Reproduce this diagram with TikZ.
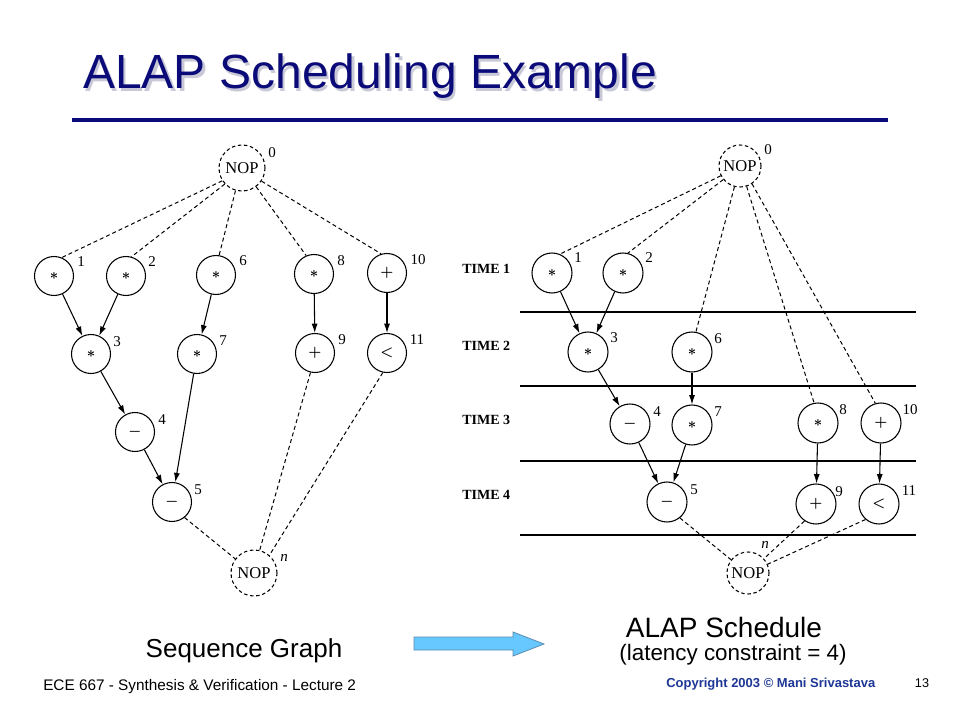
\documentclass[tikz,border=0pt]{standalone}
\usepackage{fontspec}
\setmainfont{Liberation Serif}
\newfontfamily\arialf{Liberation Sans}
\usetikzlibrary{arrows.meta}
\definecolor{navy}{RGB}{10,10,120}
\definecolor{shadowc}{RGB}{200,200,215}
\definecolor{copyc}{RGB}{30,55,150}
\definecolor{arrfill}{RGB}{102,200,255}
\definecolor{arrdraw}{RGB}{90,140,175}
\tikzset{
  opl/.style={circle,draw,line width=0.8pt,minimum size=29.25pt,inner sep=0pt,font=\fontsize{11}{11}\selectfont\boldmath},
  opr/.style={circle,draw,line width=0.8pt,minimum size=30pt,inner sep=0pt,font=\fontsize{11}{11}\selectfont\boldmath},
  nopl/.style={circle,draw,dashed,dash pattern=on 2.6pt off 2pt,line width=0.8pt,minimum size=34.5pt,inner sep=0pt,font=\fontsize{12.4}{12.4}\selectfont},
  nopr/.style={circle,draw,dashed,dash pattern=on 2.6pt off 2pt,line width=0.8pt,minimum size=31.5pt,inner sep=0pt,font=\fontsize{12.4}{12.4}\selectfont},
  lbl/.style={inner sep=0pt,font=\fontsize{11.25}{12}\selectfont},
  timelbl/.style={inner sep=0pt,anchor=west,font=\bfseries\fontsize{10.5}{12}\selectfont},
  dline/.style={dash pattern=on 3pt off 2.2pt,line width=0.75pt},
  arr/.style={-{Latex[length=7pt,width=4.5pt]},line width=0.8pt},
  tline/.style={line width=1pt},
  sanstext/.style={inner sep=0pt,font=\arialf}
}
\newcommand{\opmul}{$\ast$}
\newcommand{\opsub}{$-$}
\newcommand{\opadd}{$+$}
\newcommand{\oplt}{$<$}
\begin{document}
\begin{tikzpicture}[x=0.75pt,y=-0.75pt]
\fill[white] (0,0) rectangle (960,720);
\useasboundingbox (0,0) rectangle (960,720);

% Title
\node[sanstext,anchor=base west,text=shadowc,font=\arialf\fontsize{36}{36}\selectfont] (titleshadow) at (85.5,91.5) {ALAP Scheduling Example};
\node[sanstext,anchor=base west,text=navy,font=\arialf\fontsize{36}{36}\selectfont] (title) at (83,89) {ALAP Scheduling Example};
\coordinate (ruleA) at (72,120);
\coordinate (ruleB) at (888,120);
\draw[navy,line width=2.4pt] (ruleA) -- (ruleB);

% ---------------- Left: sequence graph ----------------
\node[nopl] (L0) at (242,168) {NOP};
\node[opl] (L1) at (54,276) {\opmul};
\node[opl] (L2) at (126,276) {\opmul};
\node[opl] (L6) at (216,275) {\opmul};
\node[opl] (L8) at (314,274) {\opmul};
\node[opl] (L10) at (387,273) {\opadd};
\node[opl] (L3) at (91,354) {\opmul};
\node[opl] (L7) at (197,354) {\opmul};
\node[opl] (L9) at (315,353) {\opadd};
\node[opl] (L11) at (387,353) {\oplt};
\node[opl] (L4) at (135,432) {\opsub};
\node[opl] (L5) at (172,502) {\opsub};
\node[nopl] (Ln) at (254,573) {NOP};

\node[lbl] (lL0) at (272,153) {0};
\node[lbl] (lL1) at (81,262) {1};
\node[lbl] (lL2) at (152,262) {2};
\node[lbl] (lL6) at (243,261) {6};
\node[lbl] (lL8) at (341,261) {8};
\node[lbl] (lL10) at (418,260) {10};
\node[lbl] (lL3) at (117,342) {3};
\node[lbl] (lL7) at (223,341) {7};
\node[lbl] (lL9) at (342,340) {9};
\node[lbl] (lL11) at (417,340) {11};
\node[lbl] (lL4) at (162,420) {4};
\node[lbl] (lL5) at (198,490) {5};
\node[lbl] (lLn) at (284,558) {\itshape n};

\draw[dline] (L0.213) -- (L1.67);
\draw[dline] (L0.223) -- (L2.74);
\draw[dline] (L0.254) -- (L6.81);
\draw[dline] (L0.307) -- (L8.113);
\draw[dline] (L0.326) -- (L10.107);
\draw[arr] (L1) -- (L3);
\draw[arr] (L2) -- (L3);
\draw[arr] (L6) -- (L7);
\draw[arr] (L8) -- (L9);
\draw[arr] (L10) -- (L11);
\draw[arr] (L3) -- (L4);
\draw[arr] (L4) -- (L5);
\draw[arr] (L7) -- (L5);
\draw[dline] (L5.309) -- (Ln.143);
\draw[dline] (L9.257) -- (Ln.76);
\draw[dline] (L11.258) -- (Ln.49);

% ---------------- Right: ALAP schedule ----------------
\coordinate (h1a) at (520,312); \coordinate (h1b) at (916,312);
\coordinate (h2a) at (520,386); \coordinate (h2b) at (916,386);
\coordinate (h3a) at (520,461); \coordinate (h3b) at (916,461);
\coordinate (h4a) at (520,535); \coordinate (h4b) at (916,535);
\draw[tline] (h1a) -- (h1b);
\draw[tline] (h2a) -- (h2b);
\draw[tline] (h3a) -- (h3b);
\draw[tline] (h4a) -- (h4b);

\node[timelbl] (t1) at (462,269) {TIME 1};
\node[timelbl] (t2) at (462,346) {TIME 2};
\node[timelbl] (t3) at (462,420) {TIME 3};
\node[timelbl] (t4) at (462,495) {TIME 4};

\node[nopr] (R0) at (740,166) {NOP};
\node[opr] (R1) at (552,273) {\opmul};
\node[opr] (R2) at (623,273) {\opmul};
\node[opr] (R3) at (588,352) {\opmul};
\node[opr] (R6) at (692,352) {\opmul};
\node[opr] (R4) at (630,424) {\opsub};
\node[opr] (R7) at (692,425) {\opmul};
\node[opr] (R8) at (818,423) {\opmul};
\node[opr] (R10) at (881,423) {\opadd};
\node[opr] (R5) at (667,502) {\opsub};
\node[opr] (R9) at (816,504) {\opadd};
\node[opr] (R11) at (879,504) {\oplt};
\node[nopr] (Rn) at (748,573) {NOP};

\node[lbl] (lR0) at (768,150) {0};
\node[lbl] (lR1) at (578,258) {1};
\node[lbl] (lR2) at (649,258) {2};
\node[lbl] (lR3) at (614,338) {3};
\node[lbl] (lR6) at (718,339) {6};
\node[lbl] (lR4) at (657,412) {4};
\node[lbl] (lR7) at (718,412) {7};
\node[lbl] (lR8) at (843,410) {8};
\node[lbl] (lR10) at (910,410) {10};
\node[lbl] (lR5) at (694,490) {5};
\node[lbl] (lR9) at (839,492) {9};
\node[lbl] (lR11) at (909,491) {11};
\node[lbl] (lRn) at (765,545) {\itshape n};

\draw[dline] (R0.207) -- (R1.67);
\draw[dline] (R0.219) -- (R2.76);
\draw[dline] (R0.255) -- (R6.79);
\draw[dline] (R0.288) -- (R8.101);
\draw[dline] (R0.304) -- (R10.106);
\draw[arr] (R1) -- (R3);
\draw[arr] (R2) -- (R3);
\draw[arr] (R3) -- (R4);
\draw[arr] (R6) -- (R7);
\draw[arr] (R4) -- (R5);
\draw[arr] (R7) -- (R5);
\draw[arr] (R8) -- (R9);
\draw[arr] (R10) -- (R11);
\draw[dline] (R5.309) -- (Rn.142);
\draw[dline] (R9.236) -- (Rn.42);
\draw[dline] (R11.229) -- (Rn.24);

% ---------------- Bottom texts ----------------
\node[sanstext,font=\arialf\fontsize{19.5}{20}\selectfont] (seq) at (244,651) {Sequence Graph};
\draw[fill=arrfill,draw=arrdraw,line width=0.6pt]
  (414,637) -- (513,637) -- (513,632) -- (544,644) -- (513,656) -- (513,650) -- (414,650) -- cycle;
\node[sanstext,font=\arialf\fontsize{21}{22}\selectfont] (alap) at (724,627) {ALAP Schedule};
\node[sanstext,font=\arialf\fontsize{16.8}{18}\selectfont] (lat) at (733,655) {(latency constraint = 4)};
\node[sanstext,anchor=west,font=\arialf\fontsize{11.5}{12}\selectfont] (ece) at (43,687) {ECE 667 - Synthesis \& Verification - Lecture 2};
\node[sanstext,anchor=west,text=copyc,font=\arialf\bfseries\fontsize{9.75}{10}\selectfont] (copy) at (666,684) {Copyright 2003 © Mani Srivastava};
\node[sanstext,font=\arialf\fontsize{9.5}{10}\selectfont] (pnum) at (922,683) {13};
\end{tikzpicture}
\end{document}
